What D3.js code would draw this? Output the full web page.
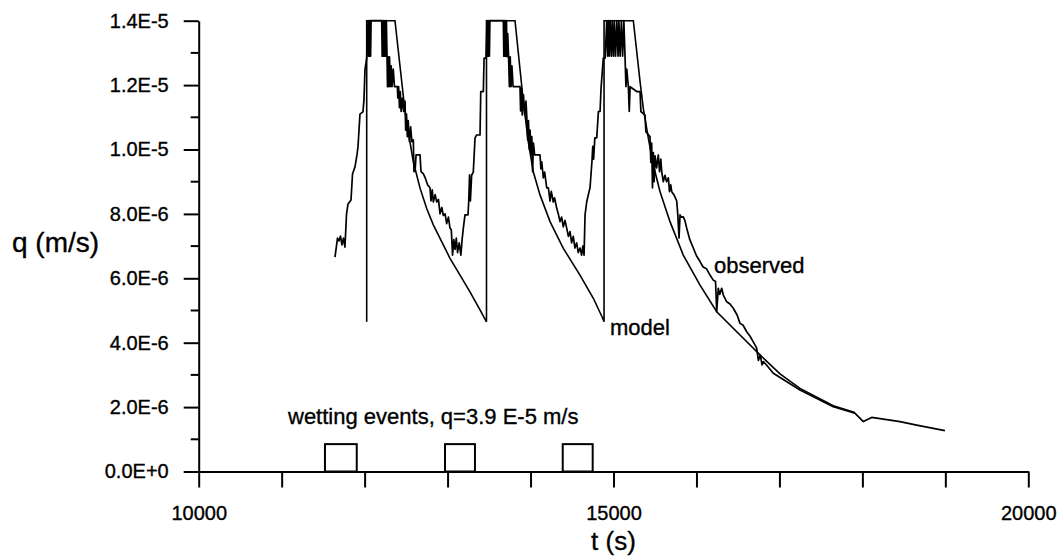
<!DOCTYPE html>
<html>
<head>
<meta charset="utf-8">
<script src="https://cdn.jsdelivr.net/npm/d3@7"></script>
<style>
  html, body { margin: 0; padding: 0; background: #fff; }
  svg { display: block; font-family: "Liberation Sans", Arial, sans-serif; }
  text { fill: #000; stroke: #000; stroke-width: 0.35px; }
</style>
</head>
<body>
<svg id="chart" width="1060" height="556"></svg>
<script>
// q values are in units of 1e-6 m/s, t in seconds
const Q_UNIT = 1e-6;

const X_TICKS = [10000, 11000, 12000, 13000, 14000, 15000, 16000, 17000, 18000, 19000, 20000];
const X_TICK_LABELS = { 10000: "10000", 15000: "15000", 20000: "20000" };

const Y_TICKS = [0, 2, 4, 6, 8, 10, 12, 14];
const Y_TICK_LABELS = ["0.0E+0", "2.0E-6", "4.0E-6", "6.0E-6", "8.0E-6", "1.0E-5", "1.2E-5", "1.4E-5"];
const Y_MINOR = [1, 3, 5, 7, 9, 11, 13];

// wetting events (schematic boxes on the time axis)
const WET_START = [11522, 12969, 14388];
const WET_END = [11905, 13330, 14749];
const WET_HEIGHT = 0.85;

// model: three sawtooth cycles, peaks cut at the top of the axis
const MODEL = [
  [12025, 4.65], [12025, 14.0], [12366, 14.0], [12487, 11.18], [12539, 10.35], [12587, 9.62],
  [12668, 8.80], [12748, 8.17], [12828, 7.66], [12929, 7.14], [13029, 6.62], [13150, 6.10],
  [13270, 5.58], [13391, 5.02], [13469, 4.65],
  [13469, 14.0], [13813, 14.0], [13913, 11.49], [13973, 10.24], [14033, 9.31], [14114, 8.59],
  [14235, 7.76], [14395, 6.93], [14596, 6.10], [14757, 5.38], [14870, 4.76], [14886, 4.65],
  [14886, 14.0], [15239, 14.0], [15320, 12.11], [15359, 11.28], [15420, 10.35], [15480, 9.52],
  [15561, 8.69], [15681, 7.76], [15841, 6.72], [16043, 5.79], [16244, 4.96], [16525, 4.24],
  [16766, 3.62], [17007, 3.03], [17248, 2.58], [17649, 2.04], [17910, 1.83]
];

const OBSERVED = [
  // cycle 1
  [11643, 6.66], [11673, 7.25], [11691, 7.16], [11709, 7.31], [11727, 7.04], [11745, 7.25],
  [11763, 6.97], [11782, 8.00], [11800, 8.31], [11836, 8.43], [11854, 9.24], [11884, 9.46],
  [11908, 9.83], [11920, 10.08], [11944, 11.10], [11980, 11.17], [11992, 11.54], [12004, 12.47],
  [12025, 12.84], [12041, 14.0], [12048, 12.9], [12054, 14.0], [12060, 12.9], [12066, 14.0],
  [12072, 12.9], [12078, 14.0], [12206, 14.0], [12212, 12.9], [12218, 14.0], [12226, 12.9],
  [12232, 14.0], [12240, 12.9], [12248, 14.0], [12256, 12.9], [12262, 14.0], [12270, 12.88],
  [12276, 11.95], [12284, 12.88], [12292, 11.95], [12300, 12.88], [12310, 11.95], [12320, 12.6],
  [12330, 11.95], [12345, 12.5], [12360, 11.95], [12387, 11.95], [12395, 11.95], [12400, 11.6],
  [12410, 11.95], [12420, 11.3], [12430, 11.8], [12440, 11.18], [12455, 11.6], [12470, 11.18],
  [12487, 11.5], [12495, 10.6], [12505, 11.1], [12515, 10.4], [12525, 10.9], [12540, 10.24],
  [12555, 10.7], [12570, 10.24], [12587, 10.3], [12595, 9.31], [12610, 9.4], [12620, 9.83],
  [12668, 9.83], [12680, 9.31], [12707, 9.25], [12730, 9.12], [12760, 8.9], [12788, 8.81],
  [12800, 8.4], [12815, 8.75], [12828, 8.37], [12850, 8.6], [12869, 8.37], [12890, 8.45],
  [12909, 8.0], [12930, 8.2], [12949, 7.95], [12970, 8.0], [12989, 7.7], [13010, 7.9],
  [13029, 7.56], [13045, 7.5], [13060, 6.72], [13075, 7.2], [13090, 6.9], [13105, 7.25],
  [13120, 6.8], [13140, 7.1], [13160, 6.72], [13175, 7.2], [13190, 7.56], [13210, 7.97],
  [13246, 7.97], [13255, 8.4], [13265, 9.21], [13275, 8.4], [13290, 9.2], [13310, 9.3],
  [13331, 10.36], [13351, 10.45], [13391, 10.45], [13400, 11.8], [13431, 11.8], [13440, 12.84],
  [13463, 12.84], [13475, 14.0],
  // cycle 2
  [13480, 12.9], [13486, 14.0], [13492, 12.9], [13498, 14.0], [13504, 12.9], [13510, 14.0],
  [13672, 14.0], [13678, 12.9], [13684, 14.0], [13690, 12.9], [13696, 14.0], [13702, 12.9],
  [13710, 14.0], [13716, 12.88], [13725, 13.6], [13735, 12.88], [13745, 11.95], [13755, 12.88],
  [13765, 11.95], [13775, 12.6], [13790, 11.95], [13873, 11.95], [13880, 11.2], [13890, 11.9],
  [13900, 11.07], [13915, 11.7], [13930, 11.07], [13945, 11.5], [13954, 11.07], [13965, 10.3],
  [13975, 10.9], [13985, 10.0], [13995, 10.6], [14005, 9.83], [14015, 10.4], [14025, 9.31],
  [14035, 10.2], [14050, 9.83], [14114, 9.83], [14125, 9.4], [14135, 9.62], [14154, 9.12],
  [14170, 9.3], [14195, 8.81], [14215, 8.81], [14235, 8.4], [14250, 8.7], [14274, 8.37],
  [14290, 8.5], [14315, 8.18], [14335, 8.0], [14355, 7.76], [14375, 7.9], [14395, 7.6],
  [14415, 7.8], [14436, 7.56], [14456, 7.3], [14476, 7.45], [14495, 7.1], [14515, 7.3],
  [14535, 6.94], [14556, 7.1], [14575, 6.8], [14596, 6.94], [14615, 6.72], [14630, 7.0],
  [14645, 6.72], [14657, 7.97], [14677, 8.37], [14697, 8.6], [14717, 8.81], [14740, 9.62],
  [14750, 10.1], [14760, 9.7], [14775, 10.36], [14798, 10.36], [14818, 11.18], [14838, 11.18],
  [14850, 11.9], [14877, 12.84], [14900, 12.84], [14918, 14.0],
  // cycle 3 and recession tail
  [14930, 12.9], [14940, 14.0], [14950, 12.9], [14960, 14.0], [14975, 12.9], [14985, 14.0],
  [15000, 12.9], [15010, 14.0], [15025, 12.9], [15040, 14.0], [15055, 12.9], [15065, 14.0],
  [15080, 12.9], [15095, 14.0], [15110, 12.9], [15125, 14.0], [15139, 12.88], [15150, 11.95],
  [15160, 12.5], [15179, 11.95], [15190, 11.18], [15200, 11.95], [15280, 11.8], [15320, 11.8],
  [15330, 11.18], [15380, 11.07], [15390, 10.55], [15440, 10.4], [15450, 9.6], [15460, 10.2],
  [15470, 8.81], [15480, 9.9], [15490, 9.0], [15501, 9.8], [15520, 9.43], [15540, 9.83],
  [15555, 9.31], [15570, 9.7], [15581, 9.31], [15600, 9.0], [15620, 9.2], [15640, 9.0],
  [15661, 9.12], [15675, 8.69], [15690, 8.9], [15702, 8.69], [15730, 8.59], [15762, 8.4],
  [15775, 7.97], [15790, 7.25], [15802, 7.97], [15815, 7.9], [15841, 7.91], [15860, 7.8],
  [15882, 7.56], [15920, 7.2], [15962, 6.94], [16000, 6.7], [16043, 6.52], [16080, 6.35],
  [16120, 6.3], [16163, 6.10], [16200, 5.95], [16230, 5.9], [16244, 4.96], [16263, 5.69],
  [16280, 5.5], [16304, 5.69], [16324, 5.48], [16365, 5.27], [16404, 5.2], [16444, 5.07],
  [16490, 4.86], [16525, 4.6], [16560, 4.55], [16606, 4.34], [16646, 4.2], [16690, 4.0],
  [16726, 3.83], [16746, 3.45], [16770, 3.62], [16790, 3.31], [16806, 3.41], [16847, 3.30],
  [16926, 3.05], [17248, 2.53], [17649, 2.01], [17910, 1.81], [18011, 1.55], [18112, 1.68],
  [18453, 1.55], [18654, 1.44], [18995, 1.27]
];

const svg = d3.select("#chart");

const x = d3.scaleLinear().domain([10000, 20000]).range([198.7, 1028.3]);
const y = d3.scaleLinear().domain([0, 14 * Q_UNIT]).range([471.5, 20.7]);

const line = d3.line()
  .x(d => x(d[0]))
  .y(d => y(d[1] * Q_UNIT));

// curves
svg.append("path")
  .datum(MODEL)
  .attr("d", line)
  .attr("fill", "none")
  .attr("stroke", "#000")
  .attr("stroke-width", 1.6);

svg.append("path")
  .datum(OBSERVED)
  .attr("d", line)
  .attr("fill", "none")
  .attr("stroke", "#000")
  .attr("stroke-width", 1.7)
  .attr("stroke-linejoin", "round");

// wetting event boxes
svg.append("g")
  .selectAll("rect")
  .data(WET_START.map((s, i) => ({ s, e: WET_END[i] })))
  .join("rect")
  .attr("x", d => x(d.s))
  .attr("y", y(WET_HEIGHT * Q_UNIT))
  .attr("width", d => x(d.e) - x(d.s))
  .attr("height", y(0) - y(WET_HEIGHT * Q_UNIT))
  .attr("fill", "none")
  .attr("stroke", "#000")
  .attr("stroke-width", 2);

// axes
const xAxis = svg.append("g")
  .attr("transform", `translate(0,${y(0)})`)
  .call(d3.axisBottom(x)
    .tickValues(X_TICKS)
    .tickFormat(d => X_TICK_LABELS[d] || "")
    .tickSize(16)
    .tickSizeOuter(0)
    .tickPadding(18));

const yAxis = svg.append("g")
  .attr("transform", `translate(${x(10000)},0)`)
  .call(d3.axisLeft(y)
    .tickValues(Y_TICKS.map(v => v * Q_UNIT))
    .tickFormat((d, i) => Y_TICK_LABELS[i])
    .tickSize(15)
    .tickSizeOuter(0)
    .tickPadding(15));

yAxis.selectAll(".minor")
  .data(Y_MINOR)
  .join("line")
  .attr("class", "minor")
  .attr("x1", -8)
  .attr("x2", 0)
  .attr("y1", d => y(d * Q_UNIT))
  .attr("y2", d => y(d * Q_UNIT))
  .attr("stroke", "#000")
  .attr("stroke-width", 2);

[xAxis, yAxis].forEach(g => {
  g.select(".domain").attr("stroke", "#000").attr("stroke-width", 2);
  g.selectAll(".tick line").attr("stroke", "#000").attr("stroke-width", 2);
  g.selectAll(".tick text")
    .attr("fill", "#000")
    .style("font-family", "'Liberation Sans', Arial, sans-serif")
    .style("font-size", "20px");
});

// axis titles
svg.append("text")
  .attr("x", 12)
  .attr("y", 252)
  .style("font-size", "28px")
  .text("q (m/s)");

svg.append("text")
  .attr("x", x(15000))
  .attr("y", 550)
  .attr("text-anchor", "middle")
  .style("font-size", "26px")
  .text("t (s)");

// annotations
svg.append("text")
  .attr("x", 288)
  .attr("y", 424)
  .style("font-size", "22px")
  .text("wetting events, q=3.9 E-5 m/s");

svg.append("text")
  .attr("x", 610)
  .attr("y", 335)
  .style("font-size", "22px")
  .text("model");

svg.append("text")
  .attr("x", 714)
  .attr("y", 273)
  .style("font-size", "22px")
  .text("observed");
</script>
</body>
</html>
